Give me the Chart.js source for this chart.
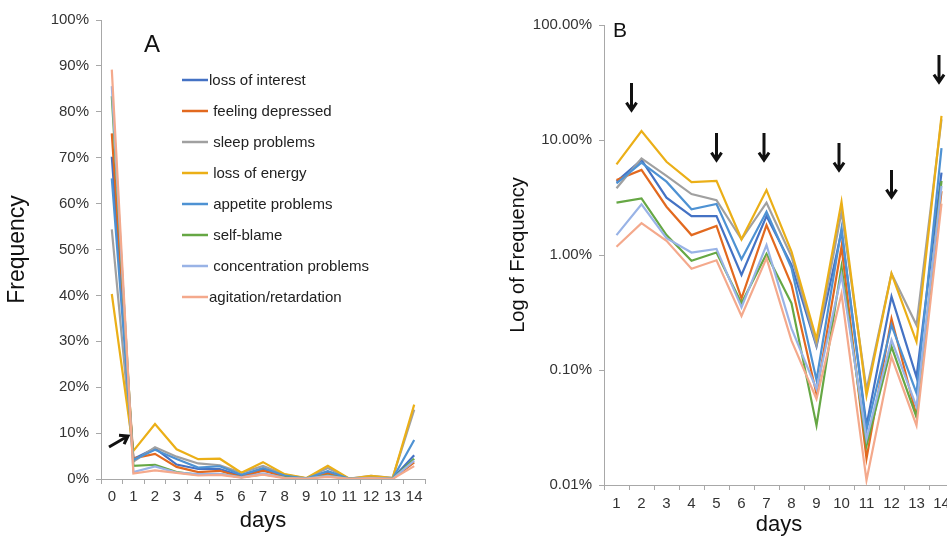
<!DOCTYPE html>
<html>
<head>
<meta charset="utf-8">
<script src="https://cdn.jsdelivr.net/npm/chart.js@4.4.1/dist/chart.umd.min.js"></script>
<style>
  html, body { margin: 0; padding: 0; background: #fff; overflow: hidden; }
  #chartA { position: absolute; left: 0; top: 0; }
  #chartB { position: absolute; left: 480px; top: 0; }
</style>
</head>
<body>
<canvas id="chartA" width="480" height="536"></canvas>
<canvas id="chartB" width="480" height="540"></canvas>
<script>
// days 0..14, values in percent
const days = ["0", "1", "2", "3", "4", "5", "6", "7", "8", "9", "10", "11", "12", "13", "14"];

const lossOfInterest   = [70.2, 4.34, 6.7, 3.15, 2.18, 2.18, 0.67, 2.18, 0.82, 0.16, 1.6, 0.033, 0.435, 0.087, 5.2];
const feelingDepressed = [75.3, 4.49, 5.49, 2.63, 1.49, 1.79, 0.42, 1.82, 0.55, 0.062, 1.18, 0.017, 0.28, 0.04, 3.6];
const sleepProblems    = [54.4, 3.8, 6.92, 4.87, 3.39, 3.0, 1.37, 2.85, 0.97, 0.165, 2.38, 0.067, 0.69, 0.246, 15.1];
const lossOfEnergy     = [40.3, 6.13, 11.97, 6.47, 4.31, 4.42, 1.37, 3.67, 1.07, 0.185, 2.9, 0.06, 0.69, 0.176, 16.2];
const appetiteProblems = [65.5, 4.2, 6.35, 4.34, 2.5, 2.78, 0.92, 2.38, 0.77, 0.082, 1.7, 0.03, 0.246, 0.063, 8.5];
const selfBlame        = [83.4, 2.85, 3.1, 1.49, 0.89, 1.05, 0.38, 1.02, 0.38, 0.033, 0.79, 0.022, 0.16, 0.039, 4.4];
const concentration    = [85.6, 1.49, 2.76, 1.4, 1.05, 1.13, 0.35, 1.22, 0.23, 0.068, 0.67, 0.025, 0.183, 0.048, 4.0];
const agitation        = [89.2, 1.18, 1.89, 1.33, 0.76, 0.9, 0.295, 0.94, 0.18, 0.056, 0.46, 0.011, 0.13, 0.033, 2.8];

const seriesNames = ["loss of interest", " feeling depressed", " sleep problems", " loss of energy",
  " appetite problems", " self-blame", " concentration problems", "agitation/retardation"];
const seriesData = [lossOfInterest, feelingDepressed, sleepProblems, lossOfEnergy,
  appetiteProblems, selfBlame, concentration, agitation];
const seriesColors = ["#4472C4", "#E2691F", "#A0A0A0", "#EBAF17", "#4E92D3", "#66A744", "#99B3E6", "#F4A98C"];

const linearTicks = [0, 10, 20, 30, 40, 50, 60, 70, 80, 90, 100];
const logTicks = [0.01, 0.1, 1, 10, 100];

const FONT = '"Liberation Sans", Arial, sans-serif';
const AXIS_COLOR = "#a8a8a8";
const TEXT_COLOR = "#333";

function makeDatasets(fromDay) {
  return seriesData.map((vals, i) => ({
    label: seriesNames[i].trim(),
    legendText: seriesNames[i],
    data: vals.slice(fromDay),
    borderColor: seriesColors[i],
    backgroundColor: seriesColors[i],
    borderWidth: 2.2,
    pointRadius: 0,
    tension: 0,
    order: 8 - i
  }));
}

function drawArrow(ctx, x1, y1, x2, y2) {
  const ang = Math.atan2(y2 - y1, x2 - x1);
  const head = 9;
  ctx.beginPath();
  ctx.moveTo(x1, y1);
  ctx.lineTo(x2, y2);
  ctx.moveTo(x2 - head * Math.cos(ang - 0.6), y2 - head * Math.sin(ang - 0.6));
  ctx.lineTo(x2, y2);
  ctx.lineTo(x2 - head * Math.cos(ang + 0.6), y2 - head * Math.sin(ang + 0.6));
  ctx.stroke();
}

function xAxis(padTop) {
  return {
    type: "category",
    offset: true,
    border: { color: AXIS_COLOR, width: 1 },
    grid: { offset: true, drawOnChartArea: false, drawTicks: true, tickLength: 5, color: AXIS_COLOR },
    ticks: { color: TEXT_COLOR, font: { family: FONT, size: 15 }, padding: padTop, maxRotation: 0, autoSkip: false },
    title: { display: true, text: "days", color: "#111", font: { family: FONT, size: 22 }, padding: { top: 0, bottom: 2 } }
  };
}

// Panel A: linear frequency
const panelA = {
  id: "panelA",
  afterDraw(chart) {
    const ctx = chart.ctx;
    ctx.save();
    ctx.fillStyle = "#111";
    ctx.textBaseline = "middle";
    ctx.textAlign = "center";
    ctx.font = "24px " + FONT;
    ctx.fillText("A", 152, 45);

    ctx.textAlign = "left";
    ctx.font = "15px " + FONT;
    chart.data.datasets.forEach((ds, i) => {
      const y = 80 + i * 31;
      ctx.strokeStyle = ds.borderColor;
      ctx.lineWidth = 2.5;
      ctx.beginPath();
      ctx.moveTo(182, y);
      ctx.lineTo(208, y);
      ctx.stroke();
      ctx.fillStyle = "#222";
      ctx.fillText(ds.legendText, 209, y + 1);
    });

    ctx.strokeStyle = "#111";
    ctx.lineWidth = 3;
    drawArrow(ctx, 109, 447, 128, 436);
    ctx.restore();
  }
};

new Chart(document.getElementById("chartA"), {
  type: "line",
  data: { labels: days, datasets: makeDatasets(0) },
  options: {
    responsive: false,
    animation: false,
    layout: { padding: { top: 20, right: 55, left: 0, bottom: 0 } },
    plugins: { legend: { display: false }, tooltip: { enabled: false } },
    scales: {
      x: Object.assign(xAxis(4), {
        afterFit(scale) { scale.height = 57; }
      }),
      y: {
        min: 0,
        max: 100,
        border: { color: AXIS_COLOR, width: 1 },
        grid: { drawOnChartArea: false, drawTicks: true, tickLength: 5, color: AXIS_COLOR },
        afterBuildTicks(scale) { scale.ticks = linearTicks.map(v => ({ value: v })); },
        ticks: { color: TEXT_COLOR, font: { family: FONT, size: 15 }, padding: 7, callback: v => v + "%" },
        title: { display: true, text: "Frequency", color: "#111", font: { family: FONT, size: 23 }, padding: { top: 4 } },
        afterFit(scale) { scale.width = 101; }
      }
    }
  },
  plugins: [panelA]
});

// Panel B: log frequency, days 1..14 (canvas a bit taller so "days" is cut at the window edge)
const panelB = {
  id: "panelB",
  afterDraw(chart) {
    const ctx = chart.ctx;
    const xs = chart.scales.x;
    ctx.save();
    ctx.fillStyle = "#111";
    ctx.textBaseline = "middle";
    ctx.textAlign = "center";
    ctx.font = "21px " + FONT;
    ctx.fillText("B", 140, 31);

    ctx.strokeStyle = "#111";
    ctx.lineWidth = 3;
    const marks = [[0.6, 83], [4, 133], [5.9, 133], [8.9, 143], [11, 170], [12.9, 55]];
    marks.forEach(([idx, top]) => {
      const x = xs.getPixelForValue(idx);
      drawArrow(ctx, x, top, x, top + 27);
    });
    ctx.restore();
  }
};

new Chart(document.getElementById("chartB"), {
  type: "line",
  data: { labels: days.slice(1), datasets: makeDatasets(1) },
  options: {
    responsive: false,
    animation: false,
    layout: { padding: { top: 25, right: 6, left: 24, bottom: 0 } },
    plugins: { legend: { display: false }, tooltip: { enabled: false } },
    scales: {
      x: Object.assign(xAxis(5), {
        afterFit(scale) { scale.height = 55; }
      }),
      y: {
        type: "logarithmic",
        min: 0.01,
        max: 100,
        border: { color: AXIS_COLOR, width: 1 },
        grid: { drawOnChartArea: false, drawTicks: true, tickLength: 5, color: AXIS_COLOR },
        afterBuildTicks(scale) { scale.ticks = logTicks.map(v => ({ value: v })); },
        ticks: { color: TEXT_COLOR, font: { family: FONT, size: 15 }, padding: 7, autoSkip: false,
          callback: v => Number(v).toFixed(2) + "%" },
        title: { display: true, text: "Log of Frequency", color: "#111", font: { family: FONT, size: 20 }, padding: { top: 2 } },
        afterFit(scale) { scale.width = 100; }
      }
    }
  },
  plugins: [panelB]
});
</script>
</body>
</html>
